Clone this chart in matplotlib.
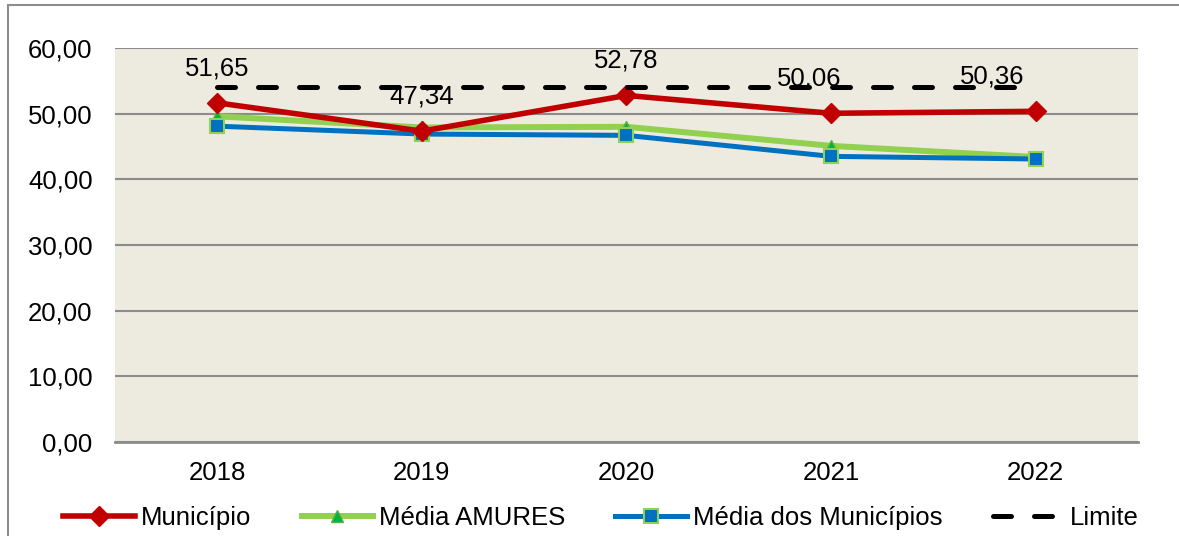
import matplotlib
matplotlib.use('Agg')
import matplotlib.pyplot as plt
from matplotlib.patches import Rectangle
from matplotlib.ticker import FuncFormatter

plt.rcParams['font.family'] = ['Liberation Sans', 'DejaVu Sans']

anos = ['2018', '2019', '2020', '2021', '2022']
municipio = [51.65, 47.34, 52.78, 50.06, 50.36]
media_amures = [49.6, 47.9, 48.0, 45.1, 43.4]
media_municipios = [48.1, 46.9, 46.7, 43.5, 43.1]
limite = [54.0, 54.0, 54.0, 54.0, 54.0]

# deslocamento horizontal dos rótulos (em pontos), como no gráfico original
label_dx = [0, 0, 0, -16, -31]

fig = plt.figure(figsize=(11.79, 5.36), dpi=100)
ax = fig.add_axes([0.0975, 0.1754, 0.8677, 0.735])
ax.set_facecolor('#EDEBE0')

x = range(len(anos))

ax.plot(x, municipio, color='#C00000', lw=4.0, marker='D', ms=10,
        label='Município', zorder=4)
ax.plot(x, media_amures, color='#92D050', lw=4.3, marker='^', ms=8,
        mfc='#00B050', mec='#5BAF3A', label='Média AMURES', zorder=3)
ax.plot(x, media_municipios, color='#0070C0', lw=3.6, marker='s', ms=10,
        mfc='#0070C0', mec='#92D050', mew=1.5, label='Média dos Municípios', zorder=3)
ax.plot(x, limite, color='black', lw=3.6, ls=(0, (3.6, 4.6)),
        dash_capstyle='round', label='Limite', zorder=5)

for i, v in enumerate(municipio):
    ax.annotate(f'{v:.2f}'.replace('.', ','), (i, v), xytext=(label_dx[i], 25),
                textcoords='offset points', ha='center', va='center',
                fontsize=18.5, zorder=4)

ax.set_xlim(-0.5, len(anos) - 0.5)
ax.set_ylim(0, 60)
ax.set_yticks(range(0, 61, 10))
ax.yaxis.set_major_formatter(FuncFormatter(lambda v, p: f'{v:.2f}'.replace('.', ',')))
ax.set_xticks(list(x))
ax.set_xticklabels(anos)
ax.tick_params(axis='both', length=0, labelsize=18.5)
ax.tick_params(axis='y', pad=16)
ax.tick_params(axis='x', pad=14)
ax.grid(axis='y', color='#8C8C8C', lw=1.5, zorder=1)
ax.set_axisbelow(True)
for s in ['left', 'right', 'top']:
    ax.spines[s].set_visible(False)
ax.spines['bottom'].set_color('#8C8C8C')
ax.spines['bottom'].set_linewidth(2)

fig.legend(loc='center', bbox_to_anchor=(0.51, 0.034), ncol=4, frameon=False,
           fontsize=18.5, handlelength=2.8, handletextpad=0.22, columnspacing=1.95)

# moldura do gráfico
fig.patches.append(Rectangle((0.007, -0.05), 1.2, 1.04, transform=fig.transFigure,
                             fill=False, edgecolor='#8C8C8C', lw=1.5))

fig.savefig('out.png', dpi=100)
